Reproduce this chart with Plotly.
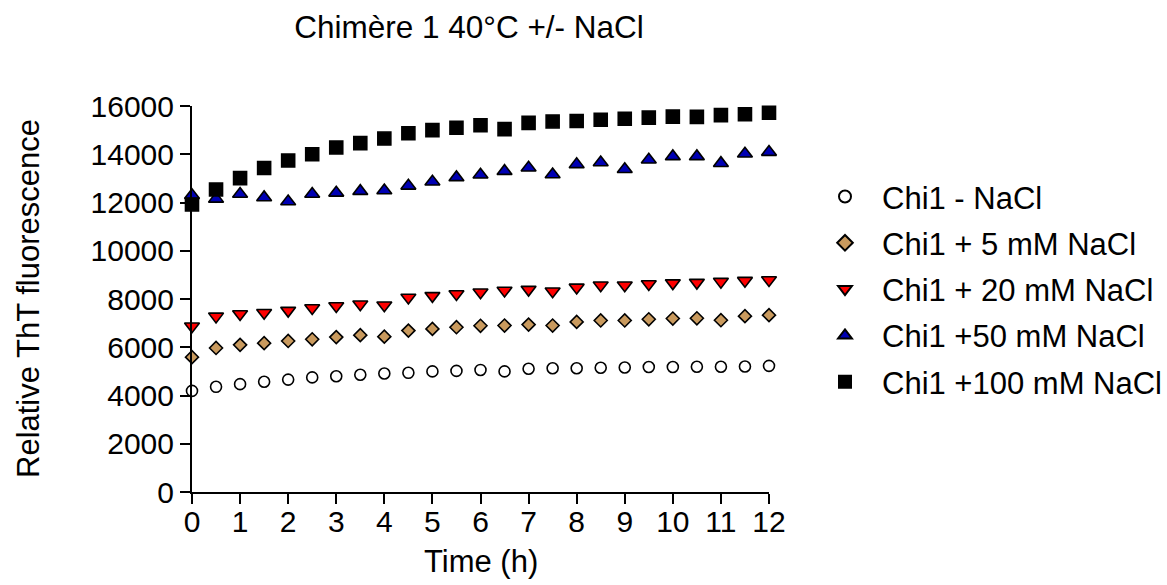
import plotly.graph_objects as go

# ---- data ----
time_h = [0, 0.5, 1, 1.5, 2, 2.5, 3, 3.5, 4, 4.5, 5, 5.5, 6, 6.5, 7, 7.5, 8, 8.5, 9, 9.5, 10, 10.5, 11, 11.5, 12]

chi1_no_nacl = [4190, 4360, 4470, 4570, 4660, 4750, 4800, 4860, 4910, 4940, 5000, 5020, 5060,
                5000, 5110, 5130, 5130, 5150, 5160, 5180, 5180, 5190, 5190, 5200, 5230]
chi1_5mm = [5590, 5970, 6100, 6170, 6260, 6330, 6420, 6500, 6440, 6690, 6760, 6830, 6890,
            6900, 6940, 6900, 7050, 7110, 7110, 7160, 7190, 7200, 7120, 7290, 7330]
chi1_20mm = [6870, 7280, 7380, 7430, 7520, 7630, 7710, 7780, 7740, 8060, 8130, 8210, 8280,
             8350, 8390, 8320, 8480, 8570, 8570, 8620, 8660, 8680, 8720, 8760, 8790]
chi1_50mm = [12300, 12150, 12350, 12210, 12040, 12350, 12400, 12470, 12500, 12690, 12860, 13040, 13150,
             13300, 13440, 13160, 13580, 13660, 13380, 13770, 13910, 13910, 13630, 14020, 14090]
chi1_100mm = [11920, 12540, 13010, 13430, 13740, 14000, 14280, 14460, 14650, 14870, 15000, 15100, 15200,
              15040, 15300, 15360, 15380, 15430, 15470, 15520, 15560, 15550, 15620, 15660, 15720]

series_names = ["Chi1 - NaCl", "Chi1 + 5 mM NaCl", "Chi1 + 20 mM NaCl", "Chi1 +50 mM NaCl", "Chi1 +100 mM NaCl"]
series_values = [chi1_no_nacl, chi1_5mm, chi1_20mm, chi1_50mm, chi1_100mm]

x_ticks = list(range(0, 13))
y_ticks = list(range(0, 16001, 2000))

# ---- styles ----
FONT = "Liberation Sans, Arial, sans-serif"
styles = [
    dict(symbol="circle", color="white", size=11),
    dict(symbol="diamond", color="#C99A5E", size=10),
    dict(symbol="triangle-down", color="#FF0000", size=13),
    dict(symbol="triangle-up", color="#0000B4", size=13),
    dict(symbol="square", color="black", size=13),
]

fig = go.Figure()
for i, (name, vals, st) in enumerate(zip(series_names, series_values, styles)):
    fig.add_trace(go.Scatter(
        x=time_h, y=vals, name=name, mode="markers", cliponaxis=False,
        legendgroup=f"g{i}",
        marker=dict(symbol=st["symbol"], color=st["color"], size=st["size"],
                    line=dict(color="black", width=1.6)),
    ))

L, R, T, B = 192, 398, 106, 93
W, H = 1167, 585

fig.update_layout(
    width=W, height=H,
    margin=dict(l=L, r=R, t=T, b=B, autoexpand=False),
    paper_bgcolor="white", plot_bgcolor="white",
    font=dict(family=FONT, color="black", size=30),
    title=dict(text="Chimère 1 40°C +/- NaCl", x=469 / W, xanchor="center",
               y=1 - 27 / H, yanchor="middle", yref="container",
               font=dict(size=31.5, family=FONT, color="black")),
    showlegend=True,
    legend=dict(x=(808 - L) / (W - L - R), xanchor="left", y=0.525, yanchor="middle",
                font=dict(size=31, family=FONT, color="black"),
                itemsizing="constant", itemwidth=64, tracegroupgap=3, traceorder="grouped",
                bgcolor="rgba(0,0,0,0)", borderwidth=0),
    xaxis=dict(range=[0, 12], tickmode="array", tickvals=x_ticks, ticktext=[str(v) for v in x_ticks],
               showline=True, linecolor="black", linewidth=2, ticks="outside", ticklen=10,
               tickwidth=2, tickcolor="black", showgrid=False, zeroline=False,
               tickfont=dict(size=30, family=FONT, color="black"), ticklabelstandoff=-8),
    yaxis=dict(range=[0, 16000], tickmode="array", tickvals=y_ticks, ticktext=[str(v) for v in y_ticks],
               showline=True, linecolor="black", linewidth=2, ticks="outside", ticklen=10,
               tickwidth=2, tickcolor="black", showgrid=False, zeroline=False,
               tickfont=dict(size=30, family=FONT, color="black"), ticklabelstandoff=0),
    annotations=[
        dict(text="Time (h)", xref="paper", yref="paper", x=0.5, y=0, xanchor="center",
             yanchor="middle", yshift=-69, showarrow=False,
             font=dict(size=31, family=FONT, color="black")),
        dict(text="Relative ThT fluorescence", xref="paper", yref="paper", x=0, y=0.5,
             xanchor="center", yanchor="middle", xshift=28 - L, textangle=-90, showarrow=False,
             font=dict(size=31, family=FONT, color="black")),
    ],
)

fig.write_html("out.html", config={"displayModeBar": False},
               post_script="document.body.style.margin='0';")
